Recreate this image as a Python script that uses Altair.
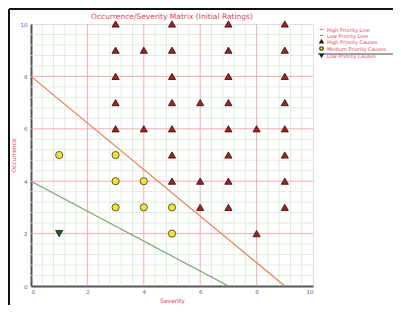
import altair as alt
import pandas as pd

# ---- data ----
high_x = [3, 5, 7, 9,
          3, 4, 5, 7, 9,
          3, 5, 7, 9,
          3, 5, 6, 7, 9,
          3, 4, 5, 7, 8, 9,
          5, 7, 9,
          5, 6, 7, 9,
          6, 7, 9,
          8]
high_y = [10, 10, 10, 10,
          9, 9, 9, 9, 9,
          8, 8, 8, 8,
          7, 7, 7, 7, 7,
          6, 6, 6, 6, 6, 6,
          5, 5, 5,
          4, 4, 4, 4,
          3, 3, 3,
          2]
med_x = [1, 3, 3, 4, 3, 4, 5, 5]
med_y = [5, 5, 4, 4, 3, 3, 3, 2]
low_x = [1]
low_y = [2]

high_line_x = [0, 9]
high_line_y = [8, 0]
low_line_x = [0, 7]
low_line_y = [4, 0]

categories = ["High Priority Line", "Low Priority Line", "High Priority Causes",
              "Medium Priority Causes", "Low Priority Causes"]
axis_ticks = [0, 2, 4, 6, 8, 10]
minor_ticks = [round(i * 0.4, 2) for i in range(26) if (i * 0.4) % 2 > 0.01 and (i * 0.4) % 2 < 1.99]

title_text = "Occurrence/Severity Matrix (Initial Ratings)"

# ---- tables ----
pts = pd.DataFrame({
    "x": high_x + med_x + low_x,
    "y": high_y + med_y + low_y,
    "type": [categories[2]] * len(high_x) + [categories[3]] * len(med_x) + [categories[4]] * len(low_x),
})
lines = pd.DataFrame({
    "x": high_line_x + low_line_x,
    "y": high_line_y + low_line_y,
    "type": [categories[0]] * 2 + [categories[1]] * 2,
})
minor = pd.DataFrame({"v": minor_ticks})
major = pd.DataFrame({"v": axis_ticks[1:-1]})

RED = "#e2405c"
LABEL = "#5a5ac8"
FONT = "DejaVu Sans"

xs = alt.Scale(domain=[0, 10], nice=False, zero=False)
ys = alt.Scale(domain=[0, 10], nice=False, zero=False)

stroke_scale = alt.Scale(domain=categories,
                         range=["#ee7a58", "#72a56e", "#2a1010", "#3a3a10", "#0f2a12"])
fill_scale = alt.Scale(domain=categories,
                       range=["transparent", "transparent", "#a3211d", "#f0e13c", "#1d5e2a"])
shape_scale = alt.Scale(domain=categories,
                        range=["stroke", "stroke", "triangle-up", "circle", "triangle-down"])

legend = alt.Legend(title=None, orient="none", legendX=288, legendY=3,
                    labelFont=FONT, labelFontSize=5, labelColor=RED,
                    symbolSize=12, symbolStrokeWidth=1.2, rowPadding=-2.6,
                    labelOffset=3, symbolOffset=0, padding=0)

xaxis = alt.Axis(values=axis_ticks, title="Severity", grid=False, ticks=False,
                 titleColor=RED, titleFont=FONT, titleFontSize=6, titleFontWeight="normal",
                 titlePadding=3,
                 labelColor=LABEL, labelFont=FONT, labelFontSize=5.5, labelPadding=3,
                 domainColor="#555555", domainWidth=2)
yaxis = alt.Axis(values=axis_ticks, title="Occurrence", grid=False, ticks=False,
                 titleColor=RED, titleFont=FONT, titleFontSize=6, titleFontWeight="normal",
                 titlePadding=4,
                 labelColor=LABEL, labelFont=FONT, labelFontSize=5.5, labelPadding=4,
                 domainColor="#555555", domainWidth=2)

minor_v = alt.Chart(minor).mark_rule(color="#d3ead0", strokeWidth=0.8).encode(x=alt.X("v:Q", scale=xs, axis=xaxis))
minor_h = alt.Chart(minor).mark_rule(color="#d3ead0", strokeWidth=0.8).encode(y=alt.Y("v:Q", scale=ys, axis=yaxis))
major_v = alt.Chart(major).mark_rule(color="#f3a5a5", strokeWidth=0.9).encode(x=alt.X("v:Q", scale=xs))
major_h = alt.Chart(major).mark_rule(color="#f3a5a5", strokeWidth=0.9).encode(y=alt.Y("v:Q", scale=ys))

line_layer = alt.Chart(lines).mark_line(strokeWidth=1.2).encode(
    x=alt.X("x:Q", scale=xs),
    y=alt.Y("y:Q", scale=ys),
    stroke=alt.Stroke("type:N", scale=stroke_scale, legend=legend),
    detail="type:N",
)

point_layer = alt.Chart(pts).mark_point(filled=True, opacity=1, size=52, strokeWidth=0.8).encode(
    x=alt.X("x:Q", scale=xs),
    y=alt.Y("y:Q", scale=ys),
    fill=alt.Fill("type:N", scale=fill_scale, legend=legend),
    stroke=alt.Stroke("type:N", scale=stroke_scale, legend=legend),
    shape=alt.Shape("type:N", scale=shape_scale, legend=legend),
)

one = pd.DataFrame({"a": [0]})
frame_left = alt.Chart(one).mark_rule(color="#111111", strokeWidth=2).encode(
    x=alt.value(-22), y=alt.value(-15), y2=alt.value(290))
frame_top = alt.Chart(one).mark_rule(color="#111111", strokeWidth=2).encode(
    x=alt.value(-22), x2=alt.value(362), y=alt.value(-15))
legend_line = alt.Chart(one).mark_rule(color="#444444", strokeWidth=1).encode(
    x=alt.value(287), x2=alt.value(362), y=alt.value(30))

chart = alt.layer(
    minor_v, minor_h, major_v, major_h, line_layer, point_layer,
    frame_left, frame_top, legend_line,
).resolve_scale(
    x="shared", y="shared"
).properties(
    width=282, height=262,
    padding={"left": 23, "top": 16, "right": 80, "bottom": 19},
    autosize=alt.AutoSizeParams(type="none"),
    title=alt.Title(title_text, color=RED, font=FONT, fontSize=7.5, fontWeight="normal",
                    offset=-12, anchor="middle"),
).configure_view(
    stroke="#666666", strokeWidth=1.5
).configure(background="white")

chart.save("out.html", embed_options={"renderer": "svg", "actions": False})
